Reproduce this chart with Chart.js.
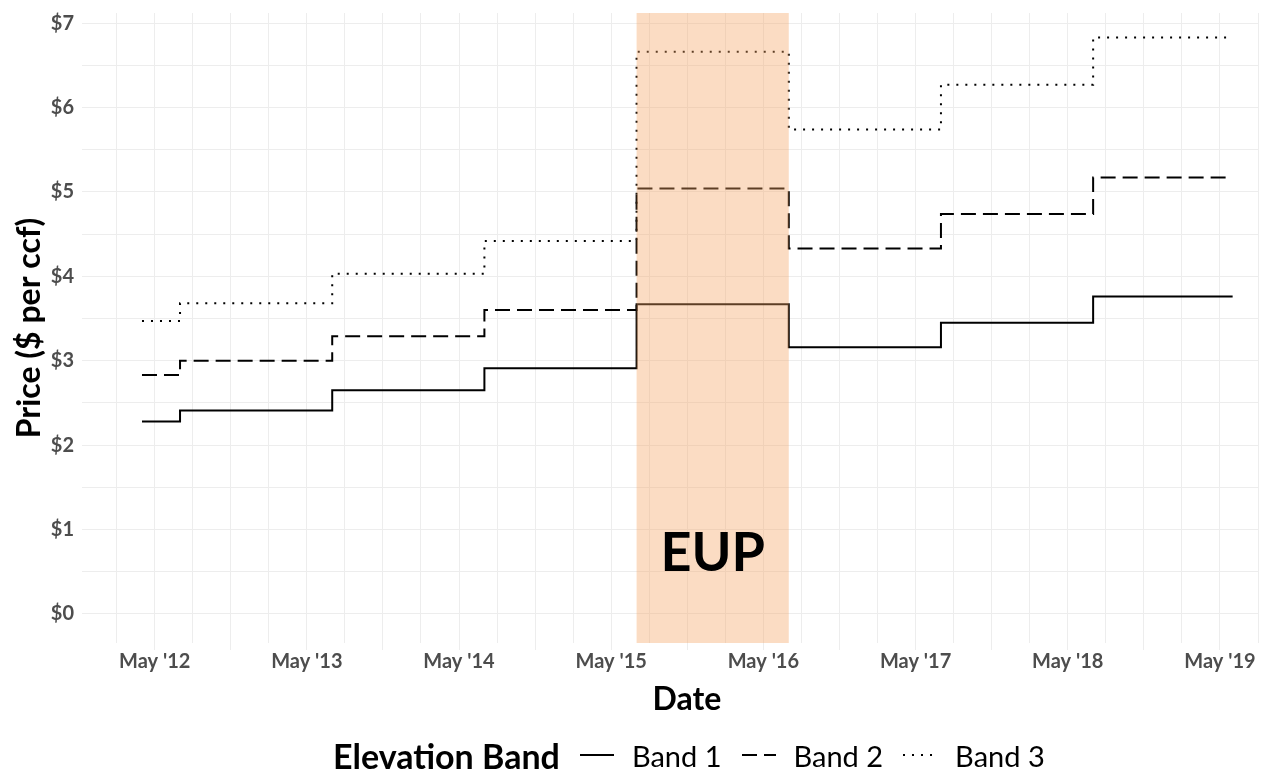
<!DOCTYPE html>
<html>
<head>
<meta charset="utf-8">
<script src="https://cdn.jsdelivr.net/npm/chart.js@4.4.1/dist/chart.umd.min.js"></script>
<style>
  html, body { margin: 0; padding: 0; background: #fff; }
  #wrap { position: relative; width: 1269px; height: 774px; }
  #legend {
    position: absolute; left: 333px; top: 734px; height: 42px;
    display: flex; align-items: center; font-family: Lato, sans-serif; color: #000;
  }
  #legend .ttl { font-weight: bold; font-size: 34px; margin-right: 20px; }
  #legend .lab { font-size: 29px; margin-left: 18px; margin-right: 20px; }
  #legend svg { display: block; }
</style>
</head>
<body>
<div id="wrap">
  <canvas id="myChart1" width="1269" height="774"></canvas>
  <div id="legend"></div>
</div>
<script>
// 요금 변경 시점 (각 값이 적용되기 시작하는 달)
const changeDates = ['2012-04', '2012-07', '2013-07', '2014-07', '2015-07', '2016-07', '2017-07', '2018-07', '2019-06'];

const band1 = [2.28, 2.41, 2.65, 2.91, 3.67, 3.16, 3.45, 3.76, 3.76];
const band2 = [2.83, 3.00, 3.29, 3.60, 5.04, 4.33, 4.74, 5.17, 5.17];
const band3 = [3.47, 3.68, 4.03, 4.42, 6.66, 5.74, 6.27, 6.83, 6.83];

const seriesNames = ['Band 1', 'Band 2', 'Band 3'];
const seriesDash = [[], [15, 7], [2, 7]];

// EUP 기간
const eupStart = '2015-07';
const eupEnd = '2016-07';
const eupLabel = 'EUP';

const yTickValues = [0, 0.5, 1, 1.5, 2, 2.5, 3, 3.5, 4, 4.5, 5, 5.5, 6, 6.5, 7];
const monthNames = ['Jan','Feb','Mar','Apr','May','Jun','Jul','Aug','Sep','Oct','Nov','Dec'];

// 2012년 5월 = 0 기준 개월 수
function monthIndex(s) {
    const [yy, mm] = s.split('-').map(Number);
    return (yy - 2012) * 12 + (mm - 5);
}

function monthLabel(idx) {
    const total = 2012 * 12 + 4 + idx;
    const yy = Math.floor(total / 12);
    const mm = total % 12;
    return monthNames[mm] + " '" + String(yy).slice(2);
}

const xTickValues = [];
for (let m = -3; m <= 87; m += 3) xTickValues.push(m);

const toPoints = vals => vals.map((v, i) => ({ x: monthIndex(changeDates[i]), y: v }));

const gridColor = '#EDEDED';

const overlayPlugin = {
    id: 'overlay',
    afterDatasetsDraw(chart) {
        const { ctx, chartArea, scales: { x, y } } = chart;
        const x0 = x.getPixelForValue(monthIndex(eupStart));
        const x1 = x.getPixelForValue(monthIndex(eupEnd));
        ctx.save();
        ctx.fillStyle = 'rgba(244, 164, 96, 0.38)';
        ctx.fillRect(x0, chartArea.top, x1 - x0, chartArea.bottom - chartArea.top);
        ctx.fillStyle = '#000';
        ctx.font = 'bold 54px Lato';
        ctx.textAlign = 'center';
        ctx.textBaseline = 'middle';
        ctx.fillText(eupLabel, (x0 + x1) / 2, y.getPixelForValue(0.72));
        ctx.restore();
    },
    afterDraw(chart) {
        const { ctx, chartArea } = chart;
        ctx.save();
        ctx.fillStyle = '#000';
        ctx.font = 'bold 32px Lato';
        ctx.textAlign = 'center';
        ctx.textBaseline = 'alphabetic';
        ctx.fillText('Date', 687, 710);
        ctx.translate(30, (chartArea.top + chartArea.bottom) / 2);
        ctx.rotate(-Math.PI / 2);
        ctx.textBaseline = 'middle';
        ctx.fillText('Price ($ per ccf)', 0, 0);
        ctx.restore();
    }
};

let myChart1;

function drawChart1() {
    const ctx = document.getElementById('myChart1').getContext('2d');
    const config = {
        type: 'line',
        data: {
            datasets: [band1, band2, band3].map((vals, i) => ({
                label: seriesNames[i],
                data: toPoints(vals),
                borderColor: '#000',
                borderWidth: 2,
                borderDash: seriesDash[i],
                pointRadius: 0,
                stepped: 'before',
                fill: false
            }))
        },
        options: {
            responsive: false,
            animation: false,
            layout: { padding: { left: 0, top: 13, right: 11, bottom: 0 } },
            plugins: { legend: { display: false }, tooltip: { enabled: false } },
            scales: {
                x: {
                    type: 'linear',
                    min: -5.73,
                    max: 87.0,
                    afterBuildTicks: axis => { axis.ticks = xTickValues.map(v => ({ value: v })); },
                    afterFit: scale => {
                        scale.height = 131;
                        scale.paddingLeft = 0;
                        scale.paddingRight = 0;
                    },
                    border: { display: false },
                    grid: {
                        color: gridColor,
                        lineWidth: 1,
                        drawTicks: true,
                        tickLength: 7,
                        tickColor: c => (c.tick && c.tick.value % 6 === 0) ? gridColor : 'rgba(0,0,0,0)'
                    },
                    ticks: {
                        autoSkip: false,
                        maxRotation: 0,
                        padding: 0,
                        color: '#4D4D4D',
                        font: { family: 'Lato', size: 20, weight: 'bold' },
                        callback: v => (v % 12 === 0) ? monthLabel(v) : ''
                    }
                },
                y: {
                    min: -0.344,
                    max: 7.12,
                    afterBuildTicks: axis => { axis.ticks = yTickValues.map(v => ({ value: v })); },
                    afterFit: scale => {
                        scale.width = 82;
                        scale.paddingTop = 0;
                        scale.paddingBottom = 0;
                    },
                    border: { display: false },
                    grid: { color: gridColor, lineWidth: 1, drawTicks: false },
                    ticks: {
                        padding: 8,
                        color: '#4D4D4D',
                        font: { family: 'Lato', size: 20, weight: 'bold' },
                        callback: v => Number.isInteger(v) ? '$' + v : ''
                    }
                }
            }
        },
        plugins: [overlayPlugin]
    };
    myChart1 = new Chart(ctx, config);
}

function buildLegend() {
    const box = document.getElementById('legend');
    const t = document.createElement('span');
    t.className = 'ttl';
    t.textContent = 'Elevation Band';
    box.appendChild(t);
    seriesNames.forEach((name, i) => {
        const ns = 'http://www.w3.org/2000/svg';
        const svg = document.createElementNS(ns, 'svg');
        svg.setAttribute('width', '34');
        svg.setAttribute('height', '20');
        const ln = document.createElementNS(ns, 'line');
        ln.setAttribute('x1', '0'); ln.setAttribute('x2', '34');
        ln.setAttribute('y1', '10'); ln.setAttribute('y2', '10');
        ln.setAttribute('stroke', '#000');
        ln.setAttribute('stroke-width', '2');
        if (seriesDash[i].length) ln.setAttribute('stroke-dasharray', seriesDash[i].join(' '));
        svg.appendChild(ln);
        box.appendChild(svg);
        const lab = document.createElement('span');
        lab.className = 'lab';
        lab.textContent = name;
        box.appendChild(lab);
    });
}

buildLegend();
document.fonts.load('bold 20px Lato').then(drawChart1, drawChart1);
</script>
</body>
</html>
